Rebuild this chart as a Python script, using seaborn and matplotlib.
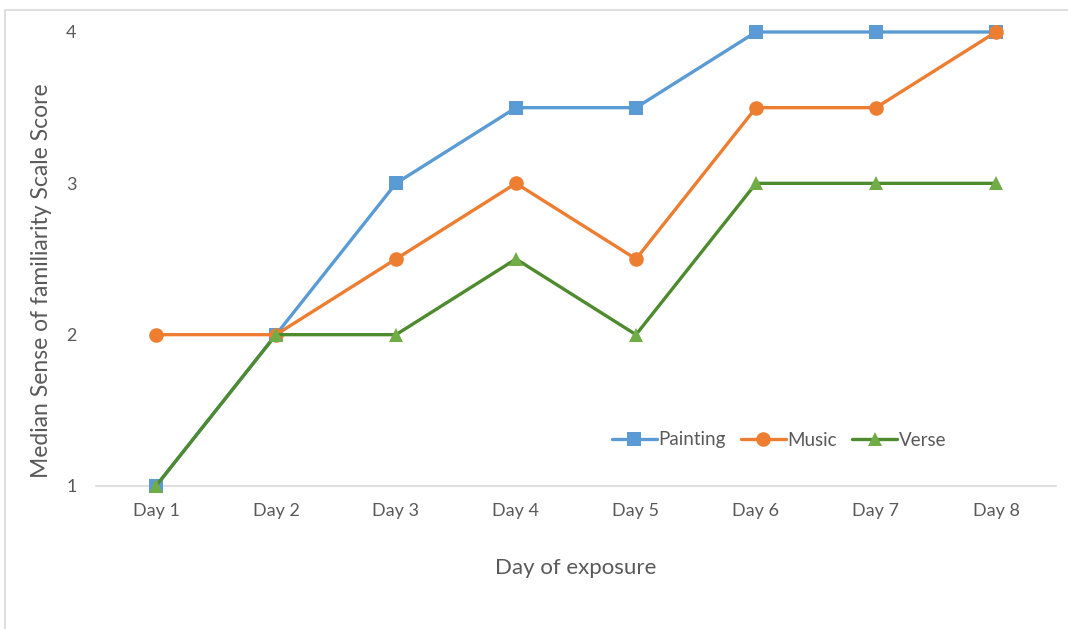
import matplotlib
matplotlib.use("Agg")
import matplotlib.pyplot as plt
from matplotlib.lines import Line2D
from matplotlib.patches import Rectangle
import pandas as pd
import seaborn as sns

days = ["Day 1", "Day 2", "Day 3", "Day 4", "Day 5", "Day 6", "Day 7", "Day 8"]
painting = [1, 2, 3, 3.5, 3.5, 4, 4, 4]
music = [2, 2, 2.5, 3, 2.5, 3.5, 3.5, 4]
verse = [1, 2, 2, 2.5, 2, 3, 3, 3]
series_names = ["Painting", "Music", "Verse"]
yticks = [1, 2, 3, 4]

sns.set_theme(style="white")
plt.rcParams["font.family"] = ["Lato", "DejaVu Sans"]

text_gray = "#595959"
styles = {
    "Painting": dict(line="#5B9BD5", face="#5B9BD5", marker="s", ms=10.5),
    "Music": dict(line="#ED7D31", face="#ED7D31", marker="o", ms=10.5),
    "Verse": dict(line="#4E8A2E", face="#70AD47", marker="^", ms=10.5),
}

rows = []
for name, vals in zip(series_names, [painting, music, verse]):
    for i, (d, v) in enumerate(zip(days, vals)):
        rows.append({"day": d, "pos": i, "score": v, "series": name})
df = pd.DataFrame(rows)

fig = plt.figure(figsize=(10.68, 6.29), dpi=100)
ax = fig.add_axes([96 / 1068, 1 - 486 / 629, 960 / 1068, (486 - 32) / 629])

for name in series_names:
    st = styles[name]
    sub = df[df["series"] == name]
    sns.lineplot(data=sub, x="pos", y="score", ax=ax, color=st["line"],
                 linewidth=2.4, marker=st["marker"], markersize=st["ms"],
                 markerfacecolor=st["face"], markeredgecolor=st["face"],
                 markeredgewidth=0, legend=False, clip_on=False, zorder=3,
                 errorbar=None)

ax.set_xlim(-0.5, len(days) - 0.5)
ax.set_ylim(1, 4)
ax.set_xticks(range(len(days)))
ax.set_xticklabels(days)
ax.set_yticks(yticks)
ax.set_yticklabels([str(t) for t in yticks])
ax.tick_params(axis="both", length=0, labelsize=13, labelcolor=text_gray)
ax.tick_params(axis="x", pad=12)
ax.tick_params(axis="y", pad=14)

for side in ["top", "right", "left"]:
    ax.spines[side].set_visible(False)
ax.spines["bottom"].set_color("#D9D9D9")
ax.spines["bottom"].set_linewidth(1.2)
ax.grid(False)

ax.set_xlabel("Day of exposure", fontsize=16, color=text_gray, labelpad=28)
ax.set_ylabel("")
fig.text(42 / 1068, 1 - 281 / 629, "Median Sense of familiarity Scale Score",
         rotation=90, ha="center", va="center", fontsize=16.5, color=text_gray)

handles = []
for name in series_names:
    st = styles[name]
    handles.append(Line2D([0], [0], color=st["line"], linewidth=2.4,
                          marker=st["marker"], markersize=st["ms"],
                          markerfacecolor=st["face"], markeredgecolor=st["face"],
                          markeredgewidth=0))
fig.legend(handles, series_names, loc="center", ncol=3, frameon=False,
           bbox_to_anchor=(779 / 1068, 1 - 440 / 629), fontsize=13.5,
           labelcolor=text_gray, handlelength=2.4, handletextpad=0.1,
           columnspacing=0.8)

fig.patches.append(Rectangle((5 / 1068, -0.01), 1.02, 1 - 10 / 629 + 0.01,
                             transform=fig.transFigure, fill=False,
                             edgecolor="#D9D9D9", linewidth=1.2))

fig.savefig("out.png", dpi=100)
